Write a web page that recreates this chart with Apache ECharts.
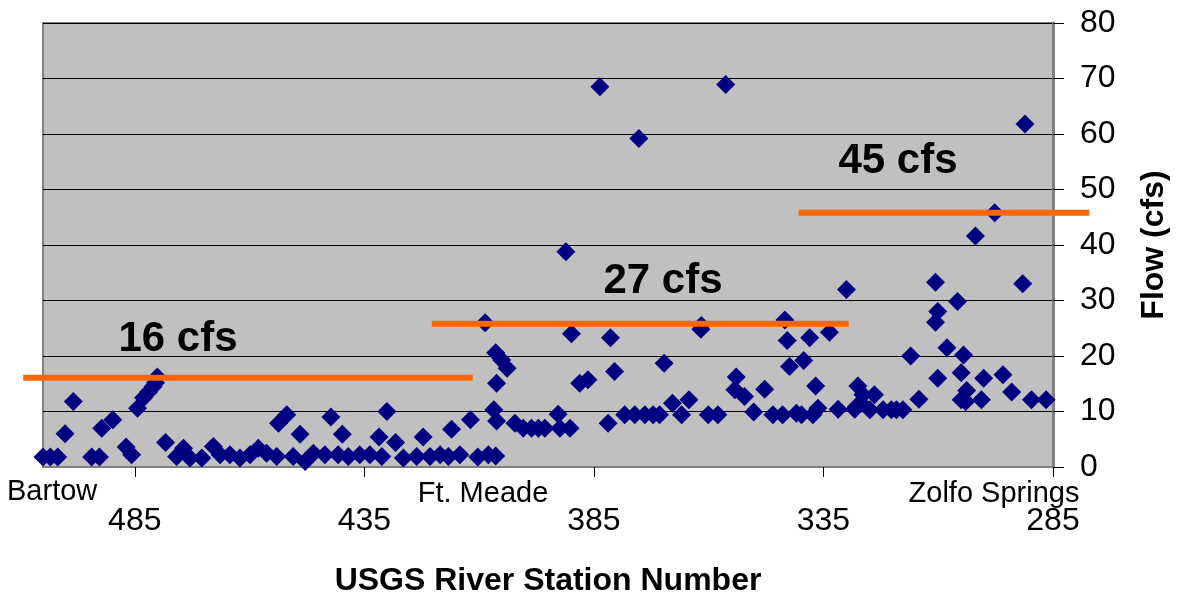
<!DOCTYPE html>
<html>
<head>
<meta charset="utf-8">
<script src="https://cdn.jsdelivr.net/npm/echarts@6/dist/echarts.min.js"></script>
<style>
html,body{margin:0;padding:0;background:#fff;}
#chart{width:1181px;height:603px;}
</style>
</head>
<body>
<div id="chart"></div>
<script>
// Station numbers (x) and flows (cfs)
const stations = [505.0,503.4,501.8,500.2,498.4,494.4,492.7,492.2,489.8,486.9,485.7,484.4,483.1,482.0,481.0,480.5,480.1,478.3,475.9,474.4,473.0,470.4,467.9,466.4,464.3,462.1,459.9,458.1,456.3,454.1,453.7,451.9,450.5,449.0,447.9,446.1,443.6,442.3,440.7,439.8,438.5,436.0,433.8,431.8,431.2,430.1,428.2,426.5,423.6,422.2,420.7,418.5,416.7,416.0,414.2,411.9,410.3,408.7,408.0,406.8,406.4,406.4,406.2,406.2,405.1,403.9,402.2,400.4,398.6,397.1,395.7,392.8,392.4,391.1,390.2,389.9,388.1,386.3,383.7,381.9,381.4,380.5,378.3,376.1,375.2,373.9,372.1,370.7,369.7,367.9,365.9,364.3,361.7,361.6,360.1,358.0,356.3,354.3,354.0,352.2,350.2,347.8,346.0,343.9,343.4,342.9,342.4,340.9,339.8,339.3,338.0,337.3,336.7,336.2,333.7,331.8,330.0,328.2,327.8,327.5,326.8,326.4,324.9,323.9,322.0,320.2,319.1,317.7,316.0,314.2,310.6,310.6,310.1,310.1,308.1,305.8,305.0,305.0,304.5,304.0,303.8,301.9,300.6,300.1,297.7,295.9,294.0,291.6,291.1,289.7,286.5];
const flows = [1.8,1.8,1.8,6.0,11.8,1.8,1.8,7.0,8.5,3.6,2.2,10.6,12.5,13.5,14.5,15.2,16.2,4.4,1.9,3.4,1.6,1.6,3.7,2.2,2.2,1.6,2.2,3.4,2.5,1.9,7.9,9.4,1.9,5.9,1.0,2.5,2.2,9.0,2.2,5.9,1.9,2.2,2.2,5.4,1.9,10.0,4.4,1.6,1.9,5.4,1.9,2.2,1.9,6.8,2.2,8.5,1.8,26.0,2.2,10.3,20.6,2.0,15.1,8.3,19.3,17.8,7.9,7.0,7.0,7.0,7.0,9.5,7.0,38.8,7.0,24.0,15.1,15.7,68.5,7.9,23.3,17.2,9.4,9.4,59.2,9.4,9.4,9.4,18.7,11.5,9.4,12.1,24.8,25.5,9.4,9.4,68.9,13.9,16.2,12.7,9.9,14.0,9.4,9.4,26.5,22.8,18.1,9.7,9.4,19.2,23.3,9.4,14.6,10.6,24.3,10.4,32.0,10.4,10.9,14.6,11.5,13.0,10.3,13.0,10.3,10.3,10.3,10.3,20.0,12.2,33.3,26.1,28.0,16.0,21.5,29.8,17.0,12.1,20.2,11.8,13.8,41.6,12.1,16.0,45.8,16.6,13.5,33.0,61.8,12.1,12.1];

// Reference lines: [start station, end station, flow]
const lineLow  = [509.3, 411.4, 16.1];
const lineMid  = [420.3, 329.5, 25.8];
const lineHigh = [340.4, 277.1, 45.8];
const lineLabels = ['16 cfs', '27 cfs', '45 cfs'];

const xTicks = [285, 335, 385, 435, 485];
const siteNames = ['Bartow', 'Ft. Meade', 'Zolfo Springs'];
const xTitle = 'USGS River Station Number';
const yTitle = 'Flow (cfs)';

const FONT = "'Liberation Sans', Arial, sans-serif";
const scatterData = stations.map((s, i) => [s, flows[i]]);

const chart = echarts.init(document.getElementById('chart'), null, {renderer: 'canvas'});
chart.setOption({
  animation: false,
  backgroundColor: '#ffffff',
  grid: {left: 43, right: 128, top: 23, bottom: 136, show: true, backgroundColor: '#C0C0C0', borderColor: '#808080', borderWidth: 2},
  xAxis: {
    type: 'value', min: 285, max: 505, inverse: true, interval: 50,
    name: xTitle, nameLocation: 'middle', nameGap: 98,
    nameTextStyle: {fontFamily: FONT, fontSize: 32, fontWeight: 'bold', color: '#000'},
    axisLine: {show: true, lineStyle: {color: '#808080', width: 2}},
    axisTick: {show: true, length: 10, inside: false, customValues: xTicks, lineStyle: {color: '#000', width: 1}},
    axisLabel: {customValues: xTicks, margin: 38, fontFamily: FONT, fontSize: 32, color: '#000',
      formatter: v => xTicks.indexOf(Math.round(v)) >= 0 ? String(Math.round(v)) : ''},
    splitLine: {show: false}
  },
  yAxis: {
    type: 'value', position: 'right', min: 0, max: 80, interval: 10,
    name: yTitle, nameLocation: 'middle', nameGap: 85, nameRotate: 90,
    nameTextStyle: {fontFamily: FONT, fontSize: 32, fontWeight: 'bold', color: '#000'},
    axisLine: {show: true, lineStyle: {color: '#808080', width: 3}},
    axisTick: {show: true, length: 11, inside: false, lineStyle: {color: '#000', width: 1}},
    axisLabel: {margin: 27, fontFamily: FONT, fontSize: 32, color: '#000'},
    splitLine: {show: true, lineStyle: {color: '#000', width: 1}}
  },
  series: [
    {type: 'scatter', data: scatterData, symbol: 'diamond', symbolSize: 19, clip: false,
     itemStyle: {color: '#000080', opacity: 1}, z: 3},
    {type: 'custom', clip: false, z: 4,
     data: [lineLow, lineMid, lineHigh],
     encode: {x: [0, 1], y: 2},
     renderItem: function (params, api) {
       const p1 = api.coord([api.value(0), api.value(2)]);
       const p2 = api.coord([api.value(1), api.value(2)]);
       return {type: 'line', shape: {x1: p1[0], y1: p1[1], x2: p2[0], y2: p2[1]},
               style: {stroke: '#FF6600', lineWidth: 6}};
     }}
  ],
  graphic: [
    {type: 'text', left: 7, top: 477, style: {text: siteNames[0], font: '29px ' + FONT, fill: '#000'}},
    {type: 'text', x: 483, y: 494, style: {text: siteNames[1], font: '29px ' + FONT, fill: '#000', textAlign: 'center', textVerticalAlign: 'middle'}},
    {type: 'text', x: 994, y: 494, style: {text: siteNames[2], font: '29px ' + FONT, fill: '#000', textAlign: 'center', textVerticalAlign: 'middle'}},
    {type: 'text', x: 178, y: 339, z: 10, style: {text: lineLabels[0], font: 'bold 42px ' + FONT, fill: '#000', textAlign: 'center', textVerticalAlign: 'middle'}},
    {type: 'text', x: 663, y: 281, z: 10, style: {text: lineLabels[1], font: 'bold 42px ' + FONT, fill: '#000', textAlign: 'center', textVerticalAlign: 'middle'}},
    {type: 'text', x: 898, y: 161, z: 10, style: {text: lineLabels[2], font: 'bold 42px ' + FONT, fill: '#000', textAlign: 'center', textVerticalAlign: 'middle'}}
  ]
});
</script>
</body>
</html>
